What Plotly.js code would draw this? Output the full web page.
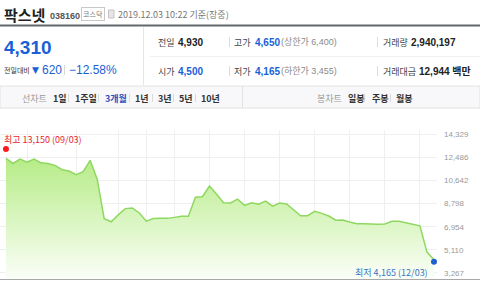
<!DOCTYPE html>
<html>
<head>
<meta charset="utf-8">
<script src="https://cdn.plot.ly/plotly-3.0.1.min.js"></script>
<style>html,body{margin:0;padding:0;background:#fff;}#chart{width:480px;height:282px;}</style>
</head>
<body>
<div id="chart"></div>
<script>
// ---- data ----
const dates = ['09/03','09/04','09/05','09/06','09/09','09/10','09/11','09/16','09/17','09/18','09/19','09/20','09/23','09/24','09/25','09/26','09/27','09/30',
  '10/01','10/02','10/04','10/07','10/08','10/10','10/11','10/14','10/15','10/16','10/17','10/18','10/21','10/22','10/23','10/24','10/25','10/28','10/29','10/30','10/31',
  '11/01','11/04','11/05','11/06','11/07','11/08','11/11','11/12','11/13','11/14','11/15','11/18','11/19','11/20','11/21','11/22','11/25','11/26','11/27','11/28','11/29',
  '12/02','12/03'];
const closes = [12400,12000,12350,12100,12350,12050,12000,11850,11500,11400,11100,11350,12250,10750,7600,7350,7900,8400,8450,8050,
  7400,7600,7620,7620,7700,7780,7780,9300,9350,10200,9560,8870,8850,9150,8660,8870,8750,9000,8600,8850,
  8770,8300,7830,7830,8180,8020,7810,7470,7490,7330,7200,7200,7150,7150,7170,7390,7390,7250,7110,7030,
  4930,4310];
const gridDates = ['09/06','09/19','09/27','10/04','10/11','10/18','10/25','11/01','11/08','11/15','11/22','11/29'];
const yTickVals = [3267,5110,6954,8798,10642,12486,14329];
const yTickText = ['3,267','5,110','6,954','8,798','10,642','12,486','14,329'];
const highInfo = {date:'09/03', value:13150, label:'최고'};
const lowInfo = {date:'12/03', value:4165, label:'최저'};
const stockName = '팍스넷', stockCode = '038160', market = '코스닥', stamp = '2019.12.03 10:22 기준(장중)';
const current = '4,310', change = '620', changePct = '−12.58%';
const infoRow1 = [['전일','4,930','#222'],['고가','4,650','#1a5fd6','(상한가 6,400)'],['거래량','2,940,197','#222']];
const infoRow2 = [['시가','4,500','#1a5fd6'],['저가','4,165','#1a5fd6','(하한가 3,455)'],['거래대금','12,944 백만','#222']];
const periodTabs = ['1일','1주일','3개월','1년','3년','5년','10년'];
const candleTabs = ['일봉','주봉','월봉'];

// ---- geometry helpers (pixel -> paper) ----
const PL = 0, PR = 437, PT = 130, PB = 279;
const px = x => (x - PL) / (PR - PL);
const py = y => (PB - y) / (PB - PT);
const KR = 'Noto Sans CJK KR, Liberation Sans, sans-serif';
const LS = 'Liberation Sans, Noto Sans CJK KR, sans-serif';
const fmt = v => v.toLocaleString('en-US');

const ann = [];
function A(text, x, y, size, color, family, extra) {
  ann.push(Object.assign({text: text, x: px(x), y: py(y), xref:'paper', yref:'paper',
    xanchor:'left', yanchor:'middle', showarrow:false,
    font:{size:size, color:color, family:family || KR}}, extra || {}));
}
const shapes = [];
function L(x0,y0,x1,y1,color,w){shapes.push({type:'line',xref:'paper',yref:'paper',x0:px(x0),y0:py(y0),x1:px(x1),y1:py(y1),line:{color:color,width:w||1}});}
function R(x0,y0,x1,y1,fill,line){shapes.push({type:'rect',xref:'paper',yref:'paper',x0:px(x0),y0:py(y0),x1:px(x1),y1:py(y1),fillcolor:fill,line:{color:line||fill,width:line?1:0},layer:'below'});}

// header
A('<b>'+stockName+'</b>', 2, 14, 15, '#222', KR);
A('<b>'+stockCode+'</b>', 48, 16, 9, '#555', LS);
A(market, 81, 14, 7, '#777', KR, {bordercolor:'#c8c8c8', borderwidth:1, borderpad:1});
R(108.5, 10, 114, 18, '#e6e6e6', '#c4c4c4');
A(stamp, 116, 14, 9, '#777', KR);
L(0, 25.5, 480, 25.5, '#62676f', 2);

// info box
L(143.5, 27, 143.5, 85, '#e6e6e6');
L(150, 56.5, 480, 56.5, '#efefef');
A('<b>'+current+'</b>', 2, 48, 19, '#1a5fd6', LS);
A('전일대비', 2, 70, 7, '#333', KR);
A('▼', 30, 70, 9, '#1a5fd6', 'DejaVu Sans');
A(change, 40, 70, 12, '#1a5fd6', LS);
L(64.5, 65, 64.5, 75, '#d8d8d8');
A(changePct, 67, 70, 12, '#1a5fd6', LS);
const colX = [[156,176],[232,253],[381,409]];
[[infoRow1,42],[infoRow2,71]].forEach(([row,y]) => {
  row.forEach((c,i) => {
    A(c[0], colX[i][0], y, 9, '#444', KR);
    const vx = (i===2 && c[0].length>3) ? 417 : colX[i][1];
    A('<b>'+c[1]+'</b>', vx, y, 10, c[2], LS);
    if (c[3]) A(c[3], 279, y, 9, '#8a8a8a', LS);
  });
  L(229.5, y-5, 229.5, y+5, '#dcdcdc');
  L(377.5, y-5, 377.5, y+5, '#dcdcdc');
});

// tab bar
R(0, 86, 480, 108, '#f8f8fa', '#e2e2e2');
L(242.5, 86, 242.5, 108, '#e2e2e2');
A('선차트', 20, 98, 9, '#999', KR);
const tabX = [51,73,103,133,156,177,199];
const sepX = [68,98,129,152,173,195];
periodTabs.forEach((t,i) => A('<b>'+t+'</b>', tabX[i], 98, 9, t==='3개월' ? '#2d4fbf' : '#333', KR));
sepX.forEach(x => L(x+0.5, 94, x+0.5, 102, '#dadada'));
A('봉차트', 315, 98, 9, '#999', KR);
const cX = [346,370,394];
candleTabs.forEach((t,i) => A('<b>'+t+'</b>', cX[i], 98, 9, '#333', KR));
[364,390].forEach(x => L(x+0.5, 94, x+0.5, 102, '#dadada'));

// bottom axis line
L(0, 279.5, 480, 279.5, '#a8a8a8', 1);

// high / low labels
A(highInfo.label+' '+fmt(highInfo.value)+' ('+highInfo.date+')', 2, 139, 9, '#e8262b', KR);
A(lowInfo.label+' '+fmt(lowInfo.value)+' ('+lowInfo.date+')', 430, 272, 9, '#3b74c6', KR, {xanchor:'right'});

const traces = [
  {x: dates, y: closes, type:'scatter', mode:'lines', line:{color:'#8fd860', width:1.5},
   fill:'tozeroy',
   fillgradient:{type:'vertical', start:2782, stop:13000, colorscale:[[0,'#fbfef8'],[1,'#b2eb80']]},
   hoverinfo:'skip'},
  {x:[highInfo.date], y:[highInfo.value], type:'scatter', mode:'markers', marker:{color:'#ff1a1a', size:6}, cliponaxis:false},
  {x:[lowInfo.date], y:[lowInfo.value], type:'scatter', mode:'markers', marker:{color:'#1f5fd0', size:6}, cliponaxis:false}
];

const layout = {
  width:480, height:282,
  margin:{l:PL, r:480-PR, t:PT, b:282-PB},
  paper_bgcolor:'#fff', plot_bgcolor:'#fff',
  showlegend:false,
  font:{family:LS},
  xaxis:{type:'category', range:[-0.85, 61.43], tickvals:gridDates, showticklabels:false,
    showgrid:true, gridcolor:'#efefef', gridwidth:1, zeroline:false, showline:false, ticks:'', fixedrange:true},
  yaxis:{range:[2782, 14672], side:'right', tickvals:yTickVals, ticktext:yTickText,
    tickfont:{size:8, color:'#999', family:LS}, ticks:'', ticklabelstandoff:6,
    showgrid:true, gridcolor:'#efefef', gridwidth:1, zeroline:false, showline:false, fixedrange:true},
  annotations: ann,
  shapes: shapes
};
Plotly.newPlot('chart', traces, layout, {staticPlot:true, displayModeBar:false});
</script>
</body>
</html>
